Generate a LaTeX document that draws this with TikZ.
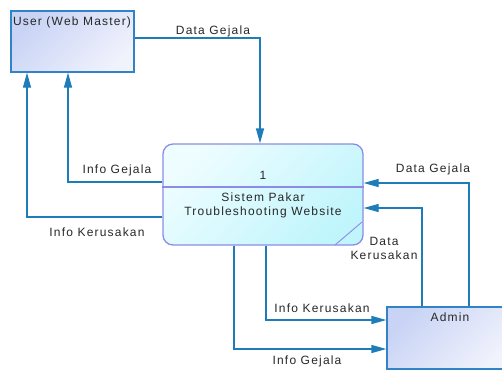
\documentclass[tikz,border=0pt]{standalone}
\usepackage{fontspec}
\setmainfont{Liberation Sans}[LetterSpace=10]
\usetikzlibrary{arrows.meta,calc}
\definecolor{flowc}{RGB}{30,125,185}
\definecolor{userborder}{RGB}{50,130,200}
\definecolor{userfillA}{RGB}{200,211,245}
\definecolor{userfillB}{RGB}{240,242,252}
\definecolor{procborder}{RGB}{140,140,232}
\definecolor{procfillA}{RGB}{238,253,255}
\definecolor{procfillB}{RGB}{192,245,252}
\definecolor{txt}{RGB}{40,40,40}
\begin{document}
\begin{tikzpicture}[x=1pt,y=-1pt,
  every node/.style={font=\fontsize{12}{14}\selectfont, text=txt, inner sep=0pt},
  entity/.style={draw=userborder, line width=1.3pt, top color=userfillA, bottom color=userfillB, shading angle=45, rectangle},
  proc/.style={draw=procborder, line width=1.3pt, top color=procfillA, bottom color=procfillB, shading angle=45, rectangle, rounded corners=10pt},
  flow/.style={draw=flowc, line width=1.3pt, -{Triangle[length=15pt,width=8pt]}},
  lbl/.style={align=center}]
\fill[white] (0,0) rectangle (502,370);
\useasboundingbox (0,0) rectangle (502,370);
% entities
\node[entity, minimum width=123pt, minimum height=61pt] (user) at (72.5,41.5) {};
\node[anchor=center] (usert) at (72,22) {User (Web Master)};
\node[entity, minimum width=123pt, minimum height=62pt] (admin) at (448.5,338) {};
\node (admint) at (450,317) {Admin};
% process
\node[proc, minimum width=200pt, minimum height=101pt] (proc) at (263,194.5) {};
\coordinate (dv) at (0,187);
\draw[draw=procborder, line width=1.3pt] (proc.west |- dv) -- (proc.east |- dv);
\coordinate (cA) at (335,245);
\coordinate (cB) at (362,222);
\draw[draw=procborder, line width=0.9pt] (cA) -- (cB);
\node (pnum) at (263,175) {1};
\node[lbl] (pname) at (263,205) {Sistem Pakar\\Troubleshooting Website};
% flows
\coordinate (b1) at (260,38);
\draw[flow] (user.east |- b1) -- (b1) -- (proc.north -| b1);
\node (l1) at (213,31) {Data Gejala};

\coordinate (b2) at (68,182);
\draw[flow] (proc.west |- b2) -- (b2) -- (user.south -| b2);
\node (l2) at (117,170) {Info Gejala};

\coordinate (b3) at (27,217);
\draw[flow] (proc.west |- b3) -- (b3) -- (user.south -| b3);
\node (l3) at (97,232) {Info Kerusakan};

\coordinate (b4) at (469,183);
\draw[flow] (admin.north -| b4) -- (b4) -- (proc.east |- b4);
\node (l4) at (433,169) {Data Gejala};

\coordinate (b5) at (422,208);
\draw[flow] (admin.north -| b5) -- (b5) -- (proc.east |- b5);
\node[lbl] (l5) at (384,248) {Data\\Kerusakan};

\coordinate (b6) at (266,320);
\draw[flow] (proc.south -| b6) -- (b6) -- (admin.west |- b6);
\node (l6) at (322,308) {Info Kerusakan};

\coordinate (b7) at (234,349);
\draw[flow] (proc.south -| b7) -- (b7) -- (admin.west |- b7);
\node (l7) at (307,361) {Info Gejala};
\end{tikzpicture}
\end{document}
